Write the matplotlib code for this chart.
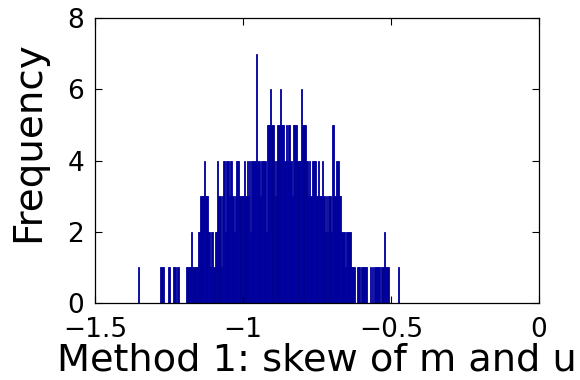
"""Histogram of skew values (Method 1), MATLAB-style look."""

import matplotlib
matplotlib.use('Agg')
import matplotlib.pyplot as plt
import numpy as np

# bin layout and counts
bin_start = -1.360
bin_width = 0.004
counts = [
    0, 1, 0, 0, 0, 0, 0, 0, 0, 0,          # -1.360
    0, 0, 0, 0, 0, 0, 0, 0, 0, 0,          # -1.320
    1, 1, 1, 0, 0, 0, 0, 1, 0, 0,          # -1.280
    0, 1, 1, 0, 1, 1, 0, 0, 0, 0,          # -1.240
    0, 0, 1, 1, 1, 1, 2, 1, 1, 1,          # -1.200
    1, 1, 2, 2, 3, 3, 3, 4, 3, 3,          # -1.160
    2, 2, 1, 2, 2, 1, 2, 2, 4, 3,          # -1.120
    3, 1, 3, 4, 4, 2, 4, 4, 3, 4,          # -1.080
    4, 3, 2, 3, 4, 4, 4, 3, 3, 3,          # -1.040
    3, 4, 3, 4, 3, 4, 2, 4, 4, 4,          # -1.000
    4, 7, 4, 4, 3, 4, 4, 4, 4, 2,          # -0.960
    5, 5, 5, 6, 5, 5, 4, 3, 4, 5,          # -0.920
    5, 6, 5, 5, 5, 4, 5, 4, 5, 5,          # -0.880
    4, 3, 5, 5, 5, 5, 4, 4, 4, 6,          # -0.840
    5, 5, 5, 4, 4, 3, 4, 3, 4, 4,          # -0.800
    4, 4, 3, 4, 3, 3, 3, 4, 3, 2,          # -0.760
    3, 2, 3, 3, 2, 5, 5, 3, 3, 4,          # -0.720
    4, 3, 3, 2, 2, 2, 1, 2, 2, 2,          # -0.680
    2, 1, 1, 1, 1, 0, 1, 1, 1, 0,          # -0.640
    1, 1, 1, 1, 1, 0, 0, 1, 0, 1,          # -0.600
    0, 1, 1, 1, 1, 1, 0, 1, 1, 2,          # -0.560
    1, 1, 1, 0, 0, 0, 0, 0, 0, 0,          # -0.520
    0, 1, 0, 0,                            # -0.480
]

x_ticks = [-1.5, -1, -0.5, 0]
x_tick_labels = ['\u22121.5', '\u22121', '\u22120.5', '0']
y_ticks = [0, 2, 4, 6, 8]

plt.rcParams['font.family'] = ['DejaVu Sans']

fig = plt.figure(figsize=(5.8, 3.8), dpi=100)
ax = fig.add_axes([0.164, 0.2026, 0.765, 0.75])

centers = bin_start + bin_width * (np.arange(len(counts)) + 0.5)
ax.bar(centers, counts, width=bin_width, color='#00008b',
       edgecolor='#0000a0', linewidth=0.6)

ax.set_xlim(-1.5, 0)
ax.set_ylim(0, 8)
ax.set_xticks(x_ticks)
ax.set_xticklabels(x_tick_labels)
ax.set_yticks(y_ticks)
ax.tick_params(direction='in', length=5, width=0.8, labelsize=19,
               top=True, right=True)
ax.tick_params(axis='x', pad=10)
ax.tick_params(axis='y', pad=8)

for s in ax.spines.values():
    s.set_linewidth(0.9)

ax.set_xlabel('Method 1: skew of m and u', fontsize=27.5, labelpad=0)
ax.set_ylabel('Frequency', fontsize=28)
ax.yaxis.set_label_coords(-0.108, 0.565)

fig.savefig('out.png', dpi=100)
